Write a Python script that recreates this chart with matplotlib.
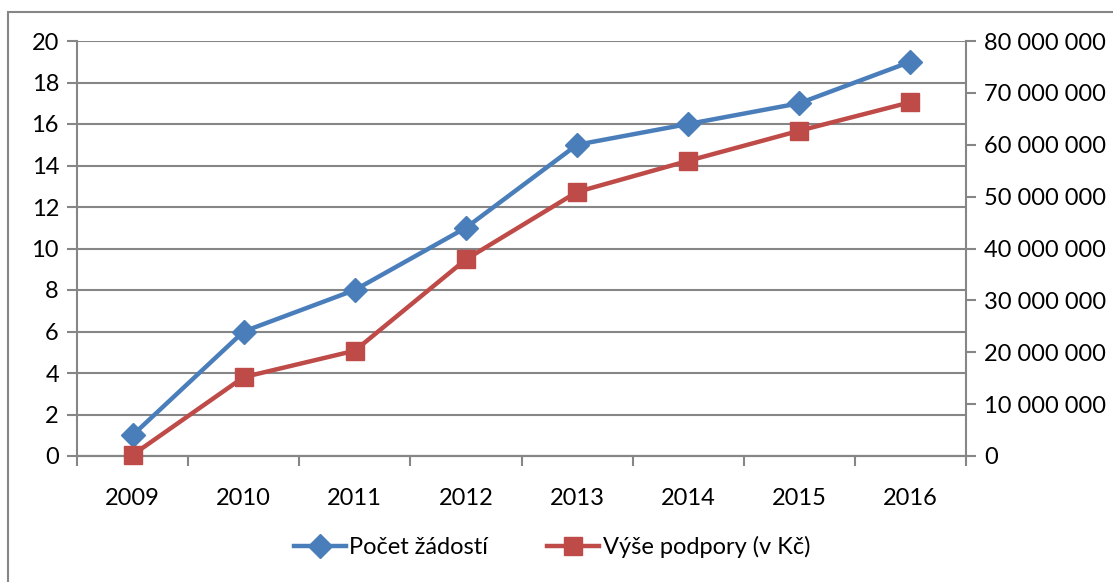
import matplotlib
matplotlib.use("Agg")
import matplotlib.pyplot as plt
from matplotlib.ticker import FuncFormatter, MultipleLocator
from matplotlib.patches import Rectangle

years = ["2009", "2010", "2011", "2012", "2013", "2014", "2015", "2016"]
pocet_zadosti = [1, 6, 8, 11, 15, 16, 17, 19]
vyse_podpory = [200000, 15200000, 20300000, 37900000, 50900000, 56900000, 62700000, 68200000]

plt.rcParams['font.family'] = ['Lato', 'DejaVu Sans']
W, H = 1113, 582
fig = plt.figure(figsize=(W / 100, H / 100), dpi=100)

# outer chart border
fig.patches.append(Rectangle((8 / W, -0.1), 1.2, 1 - 12 / H + 0.1, transform=fig.transFigure,
                             fill=False, edgecolor='#868686', linewidth=1.5, zorder=0))

left, right, top, bottom = 77 / W, 966 / W, 1 - 41 / H, 1 - 456 / H
ax = fig.add_axes([left, bottom, right - left, top - bottom])
ax2 = ax.twinx()

x = list(range(len(years)))
blue = '#4A7EBB'
red = '#BE4B48'
grid_c = '#868686'
fs = 17

l1, = ax.plot(x, pocet_zadosti, color=blue, lw=3.2, marker='D', markersize=12,
              markeredgecolor=blue, label='Počet žádostí', zorder=5, clip_on=False)
l2, = ax2.plot(x, vyse_podpory, color=red, lw=3.2, marker='s', markersize=13,
               markeredgecolor=red, label='Výše podpory (v Kč)', zorder=5, clip_on=False)

ax.set_xlim(-0.5, len(years) - 0.5)
ax.set_ylim(0, 20)
ax2.set_ylim(0, 80000000)
ax.yaxis.set_major_locator(MultipleLocator(2))
ax2.yaxis.set_major_locator(MultipleLocator(10000000))
ax2.yaxis.set_major_formatter(FuncFormatter(lambda v, p: f"{int(v):,}".replace(",", " ")))

ax.set_xticks(x)
ax.set_xticklabels(years)
ax.set_xticks([i - 0.5 for i in range(len(years) + 1)], minor=True)
ax.tick_params(axis='x', which='major', length=0, labelsize=fs, pad=23)
ax.tick_params(axis='x', which='minor', length=7, color=grid_c, width=1.5)
ax.tick_params(axis='y', length=7, color=grid_c, width=1.5, labelsize=fs, pad=6)
ax2.tick_params(axis='y', length=7, color=grid_c, width=1.5, labelsize=fs, pad=6)

ax.grid(axis='y', color=grid_c, lw=1.5)
ax.set_axisbelow(True)
for a in (ax, ax2):
    a.spines['top'].set_visible(False)
    for s in a.spines.values():
        s.set_color(grid_c)
        s.set_linewidth(1.5)
ax.spines['right'].set_visible(False)
ax2.spines['left'].set_visible(False)

ax2.set_zorder(ax.get_zorder() + 1)
ax2.patch.set_visible(False)
ax.set_facecolor('white')

fig.legend(handles=[l1, l2], loc='center', bbox_to_anchor=(0.496, 1 - 547 / H), ncol=2,
           frameon=False, fontsize=fs, handlelength=2.2, handletextpad=0.15, columnspacing=2.5)

fig.savefig('out.png', dpi=100)
